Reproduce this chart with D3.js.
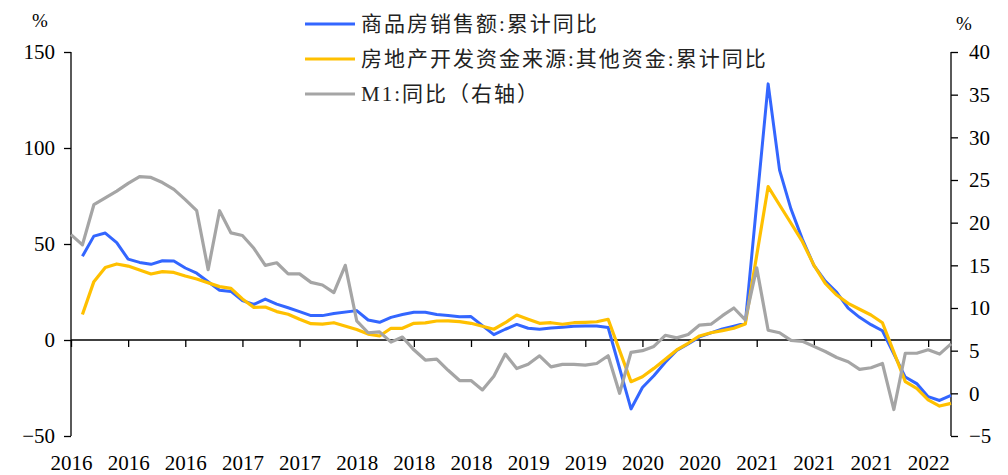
<!DOCTYPE html>
<html>
<head>
<meta charset="utf-8">
<script src="https://cdn.jsdelivr.net/npm/d3@7"></script>
<style>
  body { margin: 0; background: #fff; }
  text { font-family: "Liberation Serif", "Noto Sans CJK SC", serif; }
</style>
</head>
<body>
<script>
// months Jan 2016 .. Jun 2022
var months = d3.timeMonths(new Date(2016, 0, 1), new Date(2022, 6, 1))

// 商品房销售额:累计同比 (January has no value)
var sales = [null,
  43.6, 54.1, 55.7, 50.7, 42.1, 40.4, 39.4, 41.3, 41.1, 37.5, 34.8,
  null, 25.9, 25.3, 20.5, 18.5, 21.3, 18.7, 16.8, 14.8, 12.7, 12.7, 13.8,
  null, 15.3, 10.4, 9.2, 11.8, 13.3, 14.5, 14.5, 13.3, 12.8, 12.1, 12.2,
  null, 2.8, 5.6, 8.1, 6.1, 5.6, 6.2, 6.7, 7.1, 7.3, 7.3, 6.5,
  null, -35.9, -24.7, -18.6, -11.6, -5.4, -2.1, 1.6, 3.7, 5.8, 7.2, 8.7,
  null, 133.4, 88.5, 68.2, 52.4, 38.9, 30.7, 24.8, 16.6, 11.8, 8.0, 4.8,
  null, -19.3, -22.7, -29.5, -31.5, -28.9]

// 房地产开发资金来源:其他资金:累计同比
var otherFunds = [null,
  13.3, 30.4, 37.8, 39.6, 38.5, 36.5, 34.4, 35.6, 35.2, 33.3, 31.8,
  null, 27.8, 26.9, 21.4, 17.0, 17.2, 14.8, 13.4, 10.8, 8.5, 8.3, 9.0,
  null, 5.5, 3.1, 2.1, 6.1, 6.1, 8.7, 8.9, 9.9, 10.0, 9.6, 8.7,
  null, 5.6, 9.0, 13.0, 10.8, 8.7, 9.0, 8.2, 9.0, 9.2, 9.5, 10.8,
  null, -21.7, -19.1, -14.8, -10.0, -5.2, -1.7, 2.1, 3.8, 4.9, 6.1, 8.3,
  null, 79.9, 70.3, 60.8, 51.2, 39.0, 29.5, 23.4, 19.1, 16.0, 13.0, 9.0,
  null, -21.7, -25.2, -31.2, -34.4, -33.0]

// M1:同比 (right axis)
var m1 = [
  18.6, 17.4, 22.1, 22.9, 23.7, 24.6, 25.4, 25.3, 24.7, 23.9, 22.7, 21.4,
  14.5, 21.4, 18.8, 18.5, 17.0, 15.0, 15.3, 14.0, 14.0, 13.0, 12.7, 11.8,
  15.0, 8.5, 7.1, 7.2, 6.0, 6.6, 5.1, 3.9, 4.0, 2.7, 1.5, 1.5,
  0.4, 2.0, 4.6, 2.9, 3.4, 4.4, 3.1, 3.4, 3.4, 3.3, 3.5, 4.4,
  0.0, 4.8, 5.0, 5.5, 6.8, 6.5, 6.9, 8.0, 8.1, 9.1, 10.0, 8.6,
  14.7, 7.4, 7.1, 6.2, 6.1, 5.5, 4.9, 4.2, 3.7, 2.8, 3.0, 3.5,
  -1.9, 4.7, 4.7, 5.1, 4.6, 5.8]

var leftTicks = [-50, 0, 50, 100, 150]
var rightTicks = [-5, 0, 5, 10, 15, 20, 25, 30, 35, 40]
var tickEvery = 5

var seriesNames = ["商品房销售额:累计同比", "房地产开发资金来源:其他资金:累计同比", "M1:同比（右轴）"]
var colors = ["#3366ff", "#ffc000", "#a5a5a5"]

var W = 1008, H = 475
var plotL = 71, plotR = 951, plotT = 52, plotB = 436

var svg = d3.select("body").append("svg")
    .attr("width", W)
    .attr("height", H)

var x = d3.scalePoint()
    .domain(d3.range(months.length))
    .range([plotL, plotR])

var yL = d3.scaleLinear().domain([-50, 150]).range([plotB, plotT])
var yR = d3.scaleLinear().domain([-5, 40]).range([plotB, plotT])

// left axis
svg.append("g")
    .attr("transform", "translate(" + plotL + ",0)")
    .call(d3.axisLeft(yL).tickValues(leftTicks).tickSize(7).tickPadding(9))
    .call(g => g.select(".domain").attr("d", "M0," + plotT + "V" + plotB))

// right axis
svg.append("g")
    .attr("transform", "translate(" + plotR + ",0)")
    .call(d3.axisRight(yR).tickValues(rightTicks).tickSize(7).tickPadding(11))
    .call(g => g.select(".domain").attr("d", "M0," + plotT + "V" + plotB))

// x axis on the zero line, labels below the plot
var fmtYear = d3.timeFormat("%Y")
svg.append("g")
    .attr("transform", "translate(0," + yL(0) + ")")
    .call(d3.axisBottom(x)
        .tickValues(d3.range(0, months.length, tickEvery))
        .tickFormat(i => fmtYear(months[i]))
        .tickSize(7))
    .call(g => g.select(".domain").attr("d", "M" + plotL + ",0H" + plotR))
    .call(g => g.selectAll("text")
        .attr("y", plotB - yL(0) + 34)
        .attr("dy", null))

svg.selectAll(".tick text")
    .attr("fill", "#000")
    .style("font-size", "21px")
    .style("font-family", "'Liberation Serif', serif")
svg.selectAll(".domain, .tick line").attr("stroke", "#000").attr("stroke-width", 1.3)

// unit labels
svg.append("text").attr("x", 40).attr("y", 27).attr("text-anchor", "middle")
    .style("font-size", "19px").text("%")
svg.append("text").attr("x", 964).attr("y", 30).attr("text-anchor", "middle")
    .style("font-size", "19px").text("%")

function connected(arr, yScale) {
  var pts = arr.map((v, i) => [i, v]).filter(p => p[1] != null)
  return d3.line().x(p => x(p[0])).y(p => yScale(p[1]))(pts)
}

svg.append("path")
    .attr("d", connected(sales, yL))
    .attr("fill", "none")
    .attr("stroke", colors[0])
    .attr("stroke-width", 3)
    .attr("stroke-linejoin", "round")

svg.append("path")
    .attr("d", connected(otherFunds, yL))
    .attr("fill", "none")
    .attr("stroke", colors[1])
    .attr("stroke-width", 3.2)
    .attr("stroke-linejoin", "round")

svg.append("path")
    .attr("d", connected(m1, yR))
    .attr("fill", "none")
    .attr("stroke", colors[2])
    .attr("stroke-width", 3.2)
    .attr("stroke-linejoin", "round")

// legend
var legend = svg.append("g")
seriesNames.forEach(function (name, i) {
  var ly = 24 + i * 35
  legend.append("line")
      .attr("x1", 305).attr("x2", 355)
      .attr("y1", ly).attr("y2", ly)
      .attr("stroke", colors[i])
      .attr("stroke-width", 3.2)
  legend.append("text")
      .attr("x", 361).attr("y", ly)
      .attr("dy", "0.35em")
      .attr("fill", "#222")
      .style("font-size", "21px")
      .style("letter-spacing", "2px")
      .text(name)
})
</script>
</body>
</html>
